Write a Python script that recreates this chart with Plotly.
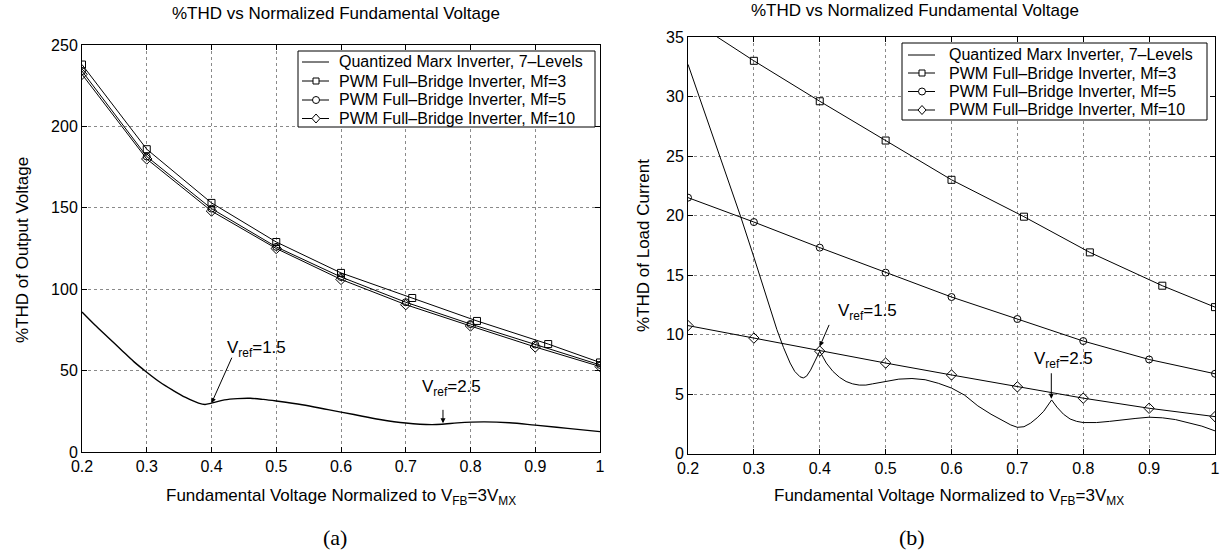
import plotly.graph_objects as go

# ---------------- data: panel (a) %THD of output voltage ----------------
a_marx_x = [0.20, 0.22, 0.24, 0.26, 0.28, 0.30, 0.32, 0.34, 0.36, 0.38, 0.39, 0.40,
            0.42, 0.44, 0.46, 0.48, 0.50, 0.54, 0.58, 0.62, 0.66, 0.70, 0.74, 0.76,
            0.78, 0.82, 0.86, 0.90, 0.95, 1.00]
a_marx_y = [86, 78, 70.5, 63, 55.5, 49, 43, 38, 33.5, 30, 29.2, 30,
            32, 32.8, 33, 32.3, 31.3, 29, 26, 23, 20, 17.8, 16.8, 17.2,
            17.9, 18.5, 18, 16.5, 14.5, 12.5]
a_mf3_x = [0.2, 0.3, 0.4, 0.5, 0.6, 0.71, 0.81, 0.92, 1.0]
a_mf3_y = [238, 186, 153, 129, 110, 94.6, 80.5, 66.3, 55]
pwm_x = [0.2, 0.3, 0.4, 0.5, 0.6, 0.7, 0.8, 0.9, 1.0]
a_mf5_y = [234, 181.5, 149.5, 126, 107.5, 92, 78.6, 66, 53.5]
a_mf10_y = [232, 180, 148, 125, 106, 90.5, 77.4, 64.5, 52.5]

# ---------------- data: panel (b) %THD of load current ----------------
b_marx_x = [0.20, 0.22, 0.24, 0.26, 0.28, 0.30, 0.32, 0.335, 0.345, 0.355, 0.362, 0.37,
            0.375, 0.38, 0.386, 0.392, 0.397, 0.40, 0.405, 0.41, 0.42, 0.43, 0.44, 0.45,
            0.46, 0.47, 0.48, 0.50, 0.52, 0.54, 0.56, 0.58, 0.60, 0.62, 0.64, 0.66,
            0.68, 0.69, 0.70, 0.71, 0.72, 0.73, 0.74, 0.75, 0.752, 0.76, 0.77, 0.78,
            0.79, 0.80, 0.82, 0.84, 0.86, 0.88, 0.90, 0.92, 0.94, 0.96, 0.98, 1.00]
b_marx_y = [32.7, 29.5, 26.3, 23.1, 19.9, 16.5, 13.0, 10.4, 8.9, 7.6, 6.9, 6.45,
            6.35, 6.5, 7.0, 7.7, 8.3, 8.6, 8.1, 7.6, 6.9, 6.4, 6.05, 5.85,
            5.75, 5.75, 5.85, 6.05, 6.25, 6.3, 6.2, 5.9, 5.5, 4.9, 4.0, 3.3,
            2.7, 2.4, 2.2, 2.25, 2.55, 3.0, 3.55, 4.3, 4.5, 3.9, 3.3, 2.9,
            2.7, 2.6, 2.6, 2.7, 2.85, 2.95, 3.05, 3.0, 2.85, 2.6, 2.3, 1.9]
b_mf3_x = [0.2, 0.3, 0.4, 0.5, 0.6, 0.71, 0.81, 0.92, 1.0]
b_mf3_y = [36.6, 33.0, 29.6, 26.3, 23.0, 19.9, 16.9, 14.1, 12.3]
b_mf5_y = [21.5, 19.45, 17.3, 15.2, 13.15, 11.3, 9.45, 7.9, 6.7]
b_mf10_y = [10.75, 9.7, 8.6, 7.6, 6.6, 5.6, 4.65, 3.8, 3.1]

x_ticks = [0.2, 0.3, 0.4, 0.5, 0.6, 0.7, 0.8, 0.9, 1.0]
x_tick_labels = ["0.2", "0.3", "0.4", "0.5", "0.6", "0.7", "0.8", "0.9", "1"]
a_y_ticks = [0, 50, 100, 150, 200, 250]
b_y_ticks = [0, 5, 10, 15, 20, 25, 30, 35]

names = ["Quantized Marx Inverter, 7\u2013Levels",
         "PWM Full\u2013Bridge Inverter, Mf=3",
         "PWM Full\u2013Bridge Inverter, Mf=5",
         "PWM Full\u2013Bridge Inverter, Mf=10"]
symbols = [None, "square", "circle", "diamond"]

W, H = 1220, 555
FONT = "Liberation Sans, Arial, Helvetica, sans-serif"


def px(x):
    return x / W


def py(y):
    return 1 - y / H


fig = go.Figure()

mk = dict(color="black", size=7, line=dict(color="black", width=1))


def add_panel(xa, ya, marx_x, marx_y, mf3_x, mf3_y, mf5_y, mf10_y, shape, marx_w):
    fig.add_trace(go.Scatter(x=marx_x, y=marx_y, mode="lines", name=names[0],
                             line=dict(color="black", width=marx_w, shape=shape),
                             xaxis=xa, yaxis=ya, showlegend=False))
    fig.add_trace(go.Scatter(x=mf3_x, y=mf3_y, mode="lines+markers", name=names[1],
                             line=dict(color="black", width=1),
                             marker=dict(symbol="square-open", **mk),
                             xaxis=xa, yaxis=ya, showlegend=False))
    fig.add_trace(go.Scatter(x=pwm_x, y=mf5_y, mode="lines+markers", name=names[2],
                             line=dict(color="black", width=1),
                             marker=dict(symbol="circle-open", **mk),
                             xaxis=xa, yaxis=ya, showlegend=False))
    fig.add_trace(go.Scatter(x=pwm_x, y=mf10_y, mode="lines+markers", name=names[3],
                             line=dict(color="black", width=1),
                             marker=dict(symbol="diamond-open", size=8,
                                         color="black", line=dict(color="black", width=1)),
                             xaxis=xa, yaxis=ya, showlegend=False))


add_panel("x", "y", a_marx_x, a_marx_y, a_mf3_x, a_mf3_y, a_mf5_y, a_mf10_y, "spline", 1.4)
add_panel("x2", "y2", b_marx_x, b_marx_y, b_mf3_x, b_mf3_y, b_mf5_y, b_mf10_y, "linear", 1.0)

axis_common = dict(showline=True, linecolor="black", linewidth=1, mirror="allticks",
                   ticks="inside", ticklen=5, tickcolor="black", automargin=False,
                   ticklabeloverflow="allow",
                   showgrid=True, gridcolor="#8a8a8a", griddash="dot", gridwidth=1,
                   zeroline=False, tickfont=dict(family=FONT, size=16, color="black"))

fig.update_layout(
    width=W, height=H,
    margin=dict(l=0, r=0, t=0, b=0, autoexpand=False),
    paper_bgcolor="white", plot_bgcolor="white",
    font=dict(family=FONT, size=16, color="black"),
    showlegend=False,
    xaxis=dict(domain=[px(82), px(600)], range=[0.2, 1.0], tickvals=x_ticks,
               ticktext=x_tick_labels, anchor="y", **axis_common),
    yaxis=dict(domain=[py(452), py(45)], range=[0, 250], tickvals=a_y_ticks,
               anchor="x", **axis_common),
    xaxis2=dict(domain=[px(688), px(1215)], range=[0.2, 1.0], tickvals=x_ticks,
                ticktext=x_tick_labels, anchor="y2", **axis_common),
    yaxis2=dict(domain=[py(453.5), py(37)], range=[0, 35], tickvals=b_y_ticks,
                anchor="x2", **axis_common),
)

ann = []
shapes = []


def text_at(text, x, y, size=17, angle=0, family=None, xa="center", ya="middle"):
    f = dict(size=size)
    if family:
        f["family"] = family
    ann.append(dict(text=text, x=px(x), y=py(y), xref="paper", yref="paper",
                    xanchor=xa, yanchor=ya, showarrow=False, textangle=angle, font=f))


# ---------------- legends (drawn as layout shapes + text) ----------------
def add_legend(box, rows, line_x0, line_x1, mark_x, text_x):
    x0, y0, x1, y1 = box
    shapes.append(dict(type="rect", xref="paper", yref="paper",
                       x0=px(x0), x1=px(x1), y0=py(y1), y1=py(y0),
                       line=dict(color="black", width=1), fillcolor="white", layer="above"))
    for i, ry in enumerate(rows):
        shapes.append(dict(type="line", xref="paper", yref="paper",
                           x0=px(line_x0), x1=px(line_x1), y0=py(ry), y1=py(ry),
                           line=dict(color="black", width=1), layer="above"))
        s = symbols[i]
        if s == "square":
            shapes.append(dict(type="rect", xref="paper", yref="paper",
                               x0=px(mark_x - 3), x1=px(mark_x + 3),
                               y0=py(ry + 3), y1=py(ry - 3),
                               line=dict(color="black", width=1), fillcolor="white",
                               layer="above"))
        elif s == "circle":
            shapes.append(dict(type="circle", xref="paper", yref="paper",
                               x0=px(mark_x - 3.5), x1=px(mark_x + 3.5),
                               y0=py(ry + 3.5), y1=py(ry - 3.5),
                               line=dict(color="black", width=1), fillcolor="white",
                               layer="above"))
        elif s == "diamond":
            pth = "M {a},{b} L {c},{d} L {a},{e} L {f},{d} Z".format(
                a=px(mark_x), b=py(ry - 4.5), c=px(mark_x + 4), d=py(ry),
                e=py(ry + 4.5), f=px(mark_x - 4))
            shapes.append(dict(type="path", xref="paper", yref="paper", path=pth,
                               line=dict(color="black", width=1), fillcolor="white",
                               layer="above"))
        text_at(names[i], text_x, ry, size=16, xa="left")


add_legend((298, 51, 595, 127), [62, 81, 100, 118.5], 302, 329, 316, 337)
add_legend((902, 43, 1207, 120), [55, 73, 91.5, 110], 908, 935, 922, 947)

# titles
text_at("%THD vs Normalized Fundamental Voltage", 336, 14)
text_at("%THD vs Normalized Fundamental Voltage", 915, 10)
# x-axis titles
xt = "Fundamental Voltage Normalized to V<sub>FB</sub>=3V<sub>MX</sub>"
text_at(xt, 341, 497)
text_at(xt, 949, 497)
# y-axis titles
text_at("%THD of Output Voltage", 22, 250, angle=-90)
text_at("%THD of Load Current", 643, 246, angle=-90)
# sub-figure labels
SERIF = "Liberation Serif, DejaVu Serif, serif"
text_at("(a)", 335, 537, size=22, family=SERIF)
text_at("(b)", 912, 537, size=22, family=SERIF)

# arrows, tip at data point
arrow = dict(showarrow=True, arrowhead=2, arrowsize=1, arrowwidth=1,
             arrowcolor="black", text="", standoff=0)
ann.append(dict(x=0.40, y=30, xref="x", yref="y", ax=21, ay=-47, **arrow))
ann.append(dict(x=0.7575, y=17.6, xref="x", yref="y", ax=0, ay=-15, **arrow))
ann.append(dict(x=0.40, y=9.0, xref="x2", yref="y2", ax=10, ay=-23, **arrow))
ann.append(dict(x=0.7515, y=4.6, xref="x2", yref="y2", ax=0, ay=-27, **arrow))

# arrow labels
lbl = "V<sub>ref</sub>=%s"
text_at(lbl % "1.5", 225, 336, xa="left", ya="top")
text_at(lbl % "2.5", 420, 375, xa="left", ya="top")
text_at(lbl % "1.5", 836, 299, xa="left", ya="top")
text_at(lbl % "2.5", 1032, 347, xa="left", ya="top")

fig.update_layout(annotations=ann, shapes=shapes)

# remove the browser's default 8px body margin so the figure fills the window
fig.write_html("out.html",
               config={"displayModeBar": False},
               post_script="document.body.style.margin='0px';"
                           "document.body.style.overflow='hidden';")
